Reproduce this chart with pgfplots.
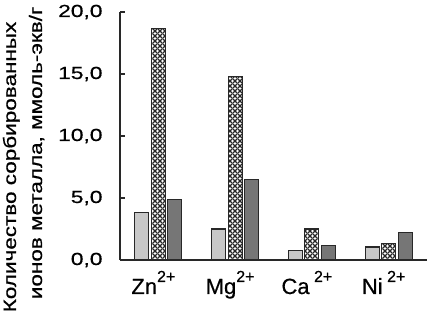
\documentclass[border=0pt]{standalone}
\usepackage{fontspec}
\setmainfont{Liberation Sans}[FakeBold=0.6]
\newfontfamily\ylabfont[FakeStretch=1.25, FakeBold=0.6]{Liberation Sans}
\newfontfamily\tickfont[FakeStretch=1.3, FakeBold=0.6]{Liberation Sans}
\usepackage{pgfplots}
\pgfplotsset{compat=1.18}
\usetikzlibrary{patterns.meta}
\tikzdeclarepattern{
  name=weave, type=uncolored,
  bottom left={(0pt,0pt)}, top right={(4.5pt,4.5pt)}, tile size={(4.5pt,4.5pt)},
  code={
    \draw[line width=1.4pt] (-0.5pt,-0.5pt) -- (5pt,5pt);
    \draw[line width=1.4pt] (-0.5pt,5pt) -- (5pt,-0.5pt);
  }
}
\definecolor{lightbar}{HTML}{C8C8C8}
\definecolor{darkbar}{HTML}{767676}
\definecolor{edge}{HTML}{282828}
\newcommand{\ion}[2]{#1\raisebox{12pt}{\fontsize{16}{16}\selectfont #2}}
\begin{document}
\begin{tikzpicture}
\begin{axis}[
  name=a,
  scale only axis,
  width=307pt, height=248pt,
  xmin=-0.5, xmax=3.5,
  ymin=0, ymax=20,
  ybar=2.5pt, bar width=14pt,
  axis x line=bottom, axis y line=left,
  axis line style={-, line width=1.3pt, edge},
  xtick={0,1,2,3},
  xticklabels={{\ion{Zn}{2+}},{\ion{Mg}{2+}},{\ion{Ca}{\ 2+}},{\ion{Ni}{\ 2+}}},
  x tick style={draw=none},
  xticklabel style={font=\fontsize{22}{22}\selectfont, anchor=base, yshift=-34pt, xshift=-5pt},
  ytick={0,5,10,15,20},
  y tick style={line width=1.2pt, edge},
  major tick length=5pt,
  tick align=inside,
  yticklabel style={font=\tickfont\fontsize{17.5}{17.5}\selectfont, xshift=-14pt},
  /pgf/number format/.cd, fixed, fixed zerofill, precision=1, use comma, assume math mode=true,
]
\addplot[fill=lightbar, draw=edge, line width=1.1pt] coordinates {(0,3.8) (1,2.5) (2,0.8) (3,1.05)};
\addplot[fill=white, draw=edge, line width=1.1pt, postaction={pattern=weave, pattern color=black!85}] coordinates {(0,18.7) (1,14.8) (2,2.5) (3,1.3)};
\addplot[fill=darkbar, draw=edge, line width=1.1pt] coordinates {(0,4.9) (1,6.5) (2,1.15) (3,2.2)};
\coordinate (o) at (rel axis cs:0,0);
\coordinate (t) at (rel axis cs:1,1);
\end{axis}
\node[rotate=90, anchor=base, font=\ylabfont\fontsize{18}{18}\selectfont, inner sep=0pt] at ([shift={(-104pt,93pt)}]o) {Количество сорбированных};
\node[rotate=90, anchor=base, font=\ylabfont\fontsize{18}{18}\selectfont, inner sep=0pt] at ([shift={(-78pt,107pt)}]o) {ионов металла, ммоль-экв/г};
\pgfresetboundingbox
\path ([shift={(-120pt,-57pt)}]o) rectangle ([shift={(0pt,12pt)}]t);
\end{tikzpicture}
\end{document}
